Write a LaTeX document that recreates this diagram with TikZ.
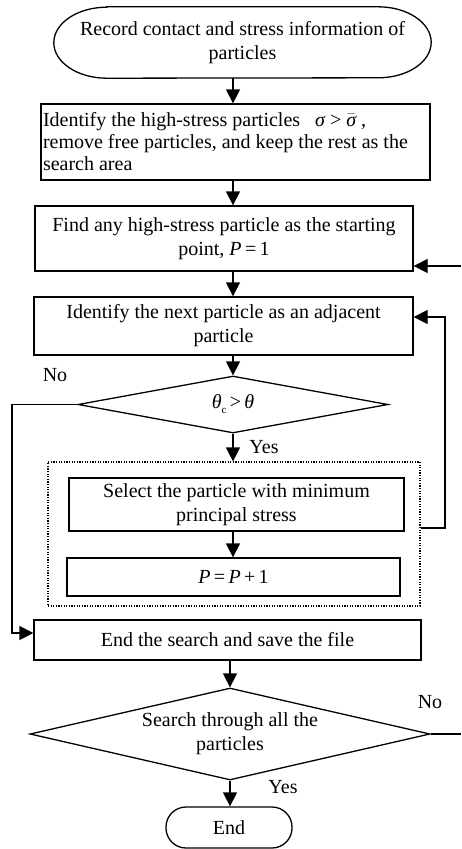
\documentclass[tikz,border=0pt]{standalone}
\usepackage{fontspec}
\setmainfont{Liberation Serif}
\usetikzlibrary{arrows.meta,shapes.geometric,calc}
\newcommand{\vi}[1]{{\itshape #1}}
\begin{document}
\begin{tikzpicture}[x=1pt,y=-1pt,
  every node/.style={font=\fontsize{20}{24}\selectfont},
  lw/.style={line width=1.3pt},
  boxnode/.style={draw,lw,rectangle,inner sep=1pt,align=center},
  arr/.style={lw,-{Triangle[width=14pt,length=14pt]}},
  dmd/.style={draw,lw,diamond,inner sep=0pt,aspect=6},
  lbl/.style={inner sep=0pt}]
\useasboundingbox (0,0) rectangle (461,849);

% start terminal (flat top and bottom, elliptical ends)
\node[inner sep=0pt,minimum width=377pt,minimum height=71pt] (start) at (242.5,42.5) {};
\draw[lw] ($(start.north west)+(53,0)$) -- ($(start.north east)+(-53,0)$)
  arc[start angle=90,end angle=-90,x radius=53pt,y radius=35.5pt]
  -- ($(start.south west)+(53,0)$)
  arc[start angle=270,end angle=90,x radius=53pt,y radius=35.5pt] -- cycle;
\node[align=center,inner sep=0pt] (starttext) at (start) {Record contact and stress information of\\particles};

% boxes
\node[boxnode,align=flush left,text width=385pt,inner sep=2pt,minimum height=76pt,font=\fontsize{20}{22}\selectfont] (b2) at (235.5,142)
  {Identify the high-stress particles\ \ \ \vi{σ} > $\bar{\hbox{\vi{σ}}}$\ ,\\remove free particles, and keep the rest as the\\search area};
\node[boxnode,minimum width=378pt,minimum height=65pt] (b3) at (224,238.5)
  {Find any high-stress particle as the starting\\point, \vi{P}\,=\,1};
\node[boxnode,minimum width=379pt,minimum height=58pt] (b4) at (223.5,326)
  {Identify the next particle as an adjacent\\particle};

% decision 1
\node[dmd,minimum width=310pt,minimum height=57pt] (d1) at (233,404.5) {};
\node[lbl] (d1t) at (d1) {\vi{θ}\raisebox{-5pt}{\fontsize{11}{11}\selectfont c}\,>\,\vi{θ}};

% dotted group
\node[draw,line width=1.2pt,dash pattern={on 1.2pt off 1.4pt},minimum width=372pt,minimum height=144pt] (dotbox) at (234,534) {};
\node[boxnode,minimum width=335pt,minimum height=53pt] (b6) at (236.5,504.5)
  {Select the particle with minimum\\principal stress};
\node[boxnode,minimum width=333pt,minimum height=38pt] (b7) at (233.5,577) {\vi{P}\,=\,\vi{P}\,+\,1};

\node[boxnode,minimum width=387pt,minimum height=40pt] (b5) at (227.5,640)
  {End the search and save the file};

% decision 2
\node[dmd,minimum width=400pt,minimum height=92pt] (d2) at (230,734) {};
\node[align=center,inner sep=0pt] (d2t) at (d2) {Search through all the\\particles};

% end terminal
\node[draw,lw,rounded corners=20pt,minimum width=126pt,minimum height=41pt] (endn) at (229,827.5) {End};

% labels
\node[lbl] (no1) at (55,375) {No};
\node[lbl] (yes1) at (264,447) {Yes};
\node[lbl] (no2) at (430,702) {No};
\node[lbl] (yes2) at (283,787) {Yes};

% main arrows
\draw[arr] (start.south -| d1.north) -- (b2.north -| d1.north);
\draw[arr] (b2.south -| d1.north) -- (b3.north -| d1.north);
\draw[arr] (b3.south -| d1.north) -- (b4.north -| d1.north);
\draw[arr] (b4.south -| d1.north) -- (d1.north);
\draw[arr] (d1.south) -- (dotbox.north -| d1.south);
\draw[arr] (b6.south -| d1.north) -- (b7.north -| d1.north);
\draw[arr] (b5.south -| d2.north) -- (d2.north);
\draw[arr] (d2.south) -- (endn.north -| d2.south);

% loop back from group to b4
\coordinate (lp) at (445,528);
\coordinate (lpt) at (445,317);
\draw[arr] (dotbox.east |- lp) -- (lp) -- (lpt) -- (b4.east |- lpt);

% No branch of d1
\coordinate (nb) at (12,633);
\draw[arr] (d1.west) -| (nb) -- (b5.west |- nb);

% No branch of d2 (leaves the picture at the right)
\coordinate (rEdge) at (461,734);
\draw[lw] (d2.east) -- (rEdge);
\coordinate (rTop) at (461,266);
\draw[arr] (rTop) -- (b3.east |- rTop);
\end{tikzpicture}
\end{document}
